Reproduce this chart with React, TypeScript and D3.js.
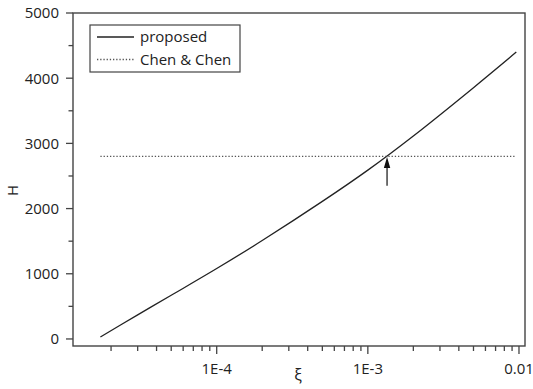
import React, { useEffect, useRef } from 'react';
import * as d3 from 'd3';

// proposed curve (ξ, H)
const xiValues = [1.7e-5, 3e-5, 5e-5, 1e-4, 2e-4, 5e-4, 1e-3, 2e-3, 5e-3, 9.6e-3];
const hValues = [30, 370, 670, 1080, 1510, 2110, 2590, 3114, 3855, 4400];

// Chen & Chen constant
const chenXi = [1.7e-5, 9.6e-3];
const chenH = 2800;

// arrow marking the crossing
const arrowXi = 1.34e-3;
const arrowFromH = 2350;
const arrowToH = 2790;

const yTicks = [0, 1000, 2000, 3000, 4000, 5000];
const yMinorTicks = [500, 1500, 2500, 3500, 4500];
const xTicks = [1e-4, 1e-3, 1e-2];
const xTickLabels = ['1E-4', '1E-3', '0.01'];
const legendLabels = ['proposed', 'Chen & Chen'];

const W = 533;
const H = 389;
const FONT = '"Open Sans", "Noto Sans", sans-serif';

const App = () => {
    const svgRef = useRef<SVGSVGElement | null>(null);

    useEffect(() => {
        if (!svgRef.current) return;
        const svg = d3.select(svgRef.current);
        svg.selectAll('*').remove();

        const left = 73, right = 525, top = 13, bottom = 346;

        const x = d3.scaleLog().domain([1.12e-5, 0.01096]).range([left, right]);
        const y = d3.scaleLinear().domain([-108, 5000]).range([bottom, top]);

        const axisColor = '#444';

        // curve
        const line = d3.line<[number, number]>()
            .curve(d3.curveCatmullRom.alpha(0.5))
            .x(d => x(d[0]))
            .y(d => y(d[1]));

        svg.append('path')
            .datum(xiValues.map((v, i) => [v, hValues[i]] as [number, number]))
            .attr('fill', 'none')
            .attr('stroke', '#222')
            .attr('stroke-width', 1.3)
            .attr('d', line);

        svg.append('line')
            .attr('x1', x(chenXi[0])).attr('x2', x(chenXi[1]))
            .attr('y1', y(chenH)).attr('y2', y(chenH))
            .attr('stroke', '#555')
            .attr('stroke-width', 1.3)
            .attr('stroke-dasharray', '1.3,1.9');

        // arrow
        const ax = x(arrowXi);
        svg.append('line')
            .attr('x1', ax).attr('x2', ax)
            .attr('y1', y(arrowFromH)).attr('y2', y(arrowToH) + 8)
            .attr('stroke', '#333').attr('stroke-width', 1.4);
        svg.append('path')
            .attr('d', `M${ax},${y(arrowToH)} L${ax - 3.2},${y(arrowToH) + 11} L${ax + 3.2},${y(arrowToH) + 11} Z`)
            .attr('fill', '#111');

        // frame
        svg.append('rect')
            .attr('x', left).attr('y', top)
            .attr('width', right - left).attr('height', bottom - top)
            .attr('fill', 'none')
            .attr('stroke', axisColor)
            .attr('stroke-width', 1.4);

        // y ticks
        yTicks.forEach(t => {
            svg.append('line')
                .attr('x1', left - 7).attr('x2', left)
                .attr('y1', y(t)).attr('y2', y(t))
                .attr('stroke', axisColor).attr('stroke-width', 1.3);
            svg.append('text')
                .attr('x', left - 14).attr('y', y(t))
                .attr('dy', '0.36em')
                .attr('text-anchor', 'end')
                .attr('font-family', FONT).attr('font-size', 15)
                .attr('fill', '#222')
                .text(t);
        });
        yMinorTicks.forEach(t => {
            svg.append('line')
                .attr('x1', left - 4.5).attr('x2', left)
                .attr('y1', y(t)).attr('y2', y(t))
                .attr('stroke', axisColor).attr('stroke-width', 1.3);
        });

        // x ticks
        const [d0, d1] = x.domain();
        const minor: number[] = [];
        for (let e = -5; e <= -2; e++) {
            for (let m = 2; m <= 9; m++) {
                const v = m * Math.pow(10, e);
                if (v >= d0 && v <= d1) minor.push(v);
            }
        }
        minor.forEach(t => {
            svg.append('line')
                .attr('x1', x(t)).attr('x2', x(t))
                .attr('y1', bottom).attr('y2', bottom + 5)
                .attr('stroke', axisColor).attr('stroke-width', 1.3);
        });
        xTicks.forEach((t, i) => {
            svg.append('line')
                .attr('x1', x(t)).attr('x2', x(t))
                .attr('y1', bottom).attr('y2', bottom + 8)
                .attr('stroke', axisColor).attr('stroke-width', 1.3);
            svg.append('text')
                .attr('x', x(t)).attr('y', bottom + 28)
                .attr('text-anchor', 'middle')
                .attr('font-family', FONT).attr('font-size', 15)
                .attr('fill', '#222')
                .text(xTickLabels[i]);
        });

        // axis titles
        svg.append('text')
            .attr('x', 298).attr('y', 381)
            .attr('text-anchor', 'middle')
            .attr('font-family', FONT).attr('font-size', 16)
            .attr('fill', '#222')
            .text('ξ');
        svg.append('text')
            .attr('transform', `translate(18,${(top + bottom) / 2 + 11}) rotate(-90)`)
            .attr('text-anchor', 'middle')
            .attr('font-family', FONT).attr('font-size', 15)
            .attr('fill', '#222')
            .text('H');

        // legend
        const lg = svg.append('g');
        lg.append('rect')
            .attr('x', 90).attr('y', 25)
            .attr('width', 150).attr('height', 47)
            .attr('fill', 'white')
            .attr('stroke', axisColor).attr('stroke-width', 1.2);
        legendLabels.forEach((lab, i) => {
            const ly = 37 + i * 22.5;
            lg.append('line')
                .attr('x1', 97).attr('x2', 134)
                .attr('y1', ly).attr('y2', ly)
                .attr('stroke', i === 0 ? '#222' : '#555')
                .attr('stroke-width', 1.3)
                .attr('stroke-dasharray', i === 0 ? null : '1.3,1.9');
            lg.append('text')
                .attr('x', 140).attr('y', ly)
                .attr('dy', '0.34em')
                .attr('font-family', FONT).attr('font-size', 15)
                .attr('fill', '#222')
                .text(lab);
        });
    }, []);

    return (
        <svg ref={svgRef} width={W} height={H}
            style={{ position: 'absolute', left: 0, top: 0, background: 'white' }} />
    );
};

export default App;
